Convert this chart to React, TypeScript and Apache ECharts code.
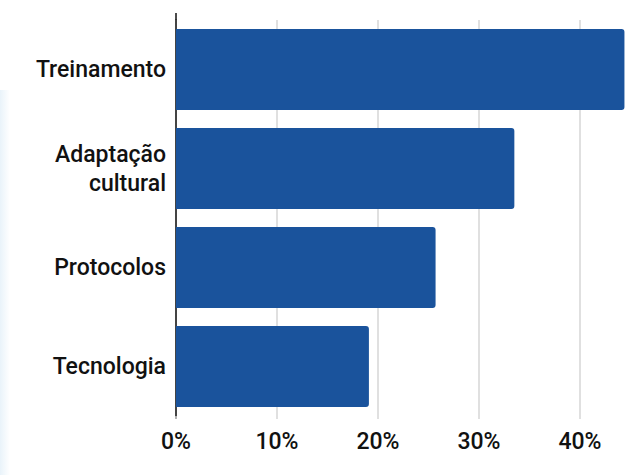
import React, { useEffect, useRef } from "react";
import * as echarts from "echarts";

const categories = ["Treinamento", "Adaptação\ncultural", "Protocolos", "Tecnologia"];
const values = [44.4, 33.5, 25.7, 19.1];
const xTicks = [0, 10, 20, 30, 40];

export default function App() {
  const ref = useRef<HTMLDivElement>(null);
  useEffect(() => {
    document.body.style.margin = "0";
    const chart = echarts.init(ref.current!, null, { renderer: "svg" });
    chart.setOption({
      animation: false,
      backgroundColor: "#ffffff",
      grid: { left: 176, top: 20, width: 404, height: 396, containLabel: false },
      xAxis: {
        type: "value",
        min: xTicks[0],
        max: xTicks[xTicks.length - 1],
        interval: 10,
        axisLine: { show: false },
        axisTick: { show: true, length: 3, lineStyle: { color: "#d6d6d6", width: 1.5 } },
        splitLine: { show: true, lineStyle: { color: "#d6d6d6", width: 1.5 } },
        axisLabel: {
          formatter: (v: number) => v + "%",
          color: "#111111",
          fontFamily: "Roboto",
          fontSize: 23,
          fontWeight: 500,
          margin: 14,
        },
      },
      yAxis: {
        type: "category",
        data: categories,
        inverse: true,
        axisLine: { show: true, lineStyle: { color: "#111111", width: 1.5 } },
        axisTick: { show: false },
        axisLabel: {
          color: "#111111",
          fontFamily: "Roboto",
          fontSize: 23,
          fontWeight: 500,
          margin: 10,
          lineHeight: 29,
          align: "right",
        },
      },
      graphic: [
        {
          type: "rect",
          shape: { x: 0, y: 90, width: 10, height: 385 },
          style: {
            fill: new echarts.graphic.LinearGradient(0, 0, 1, 0, [
              { offset: 0, color: "#e9f3fa" },
              { offset: 1, color: "#ffffff" },
            ]),
          },
          z: -1,
        },
        { type: "line", shape: { x1: 176, y1: 13, x2: 176, y2: 20 }, style: { stroke: "#111111", lineWidth: 1.5 } },
        { type: "line", shape: { x1: 176, y1: 416, x2: 176, y2: 419 }, style: { stroke: "#111111", lineWidth: 1.5 } },
      ],
      series: [
        {
          type: "bar",
          data: values,
          clip: false,
          barCategoryGap: "18%",
          itemStyle: { color: "#1a539c", borderRadius: [0, 3, 3, 0] },
          z: 3,
        },
      ],
    });
    return () => chart.dispose();
  }, []);
  return <div ref={ref} style={{ position: "absolute", left: 0, top: 0, width: 635, height: 475 }} />;
}
